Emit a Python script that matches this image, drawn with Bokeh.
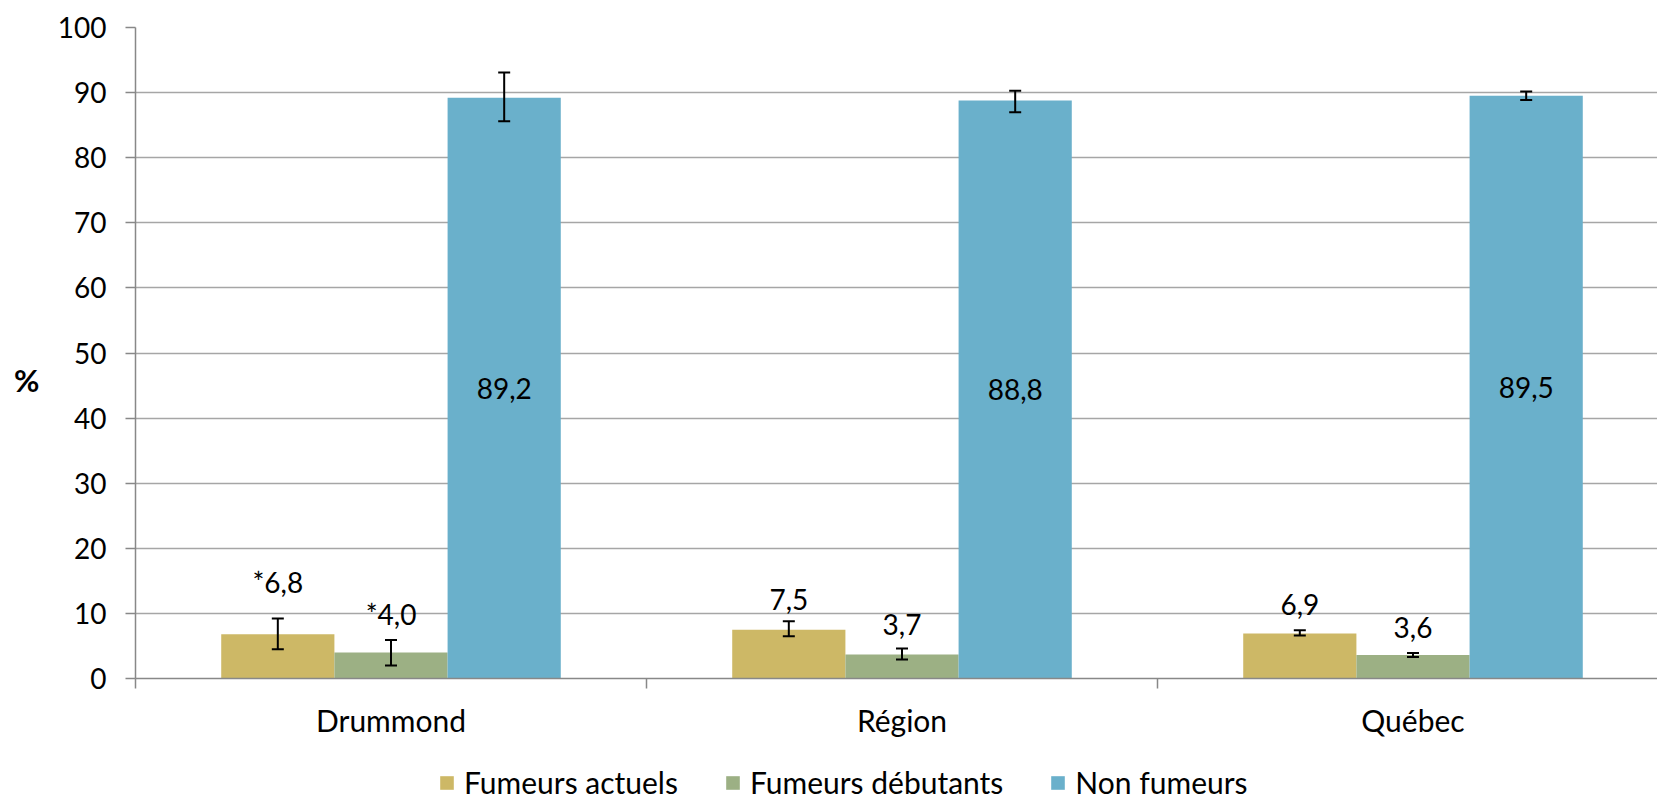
from bokeh.plotting import figure
from bokeh.layouts import column
from bokeh.models import (Range1d, FixedTicker, Whisker, TeeHead, ColumnDataSource,
                          Legend, LegendItem, LinearAxis)
from bokeh.core.properties import value
from bokeh.embed import file_html
from bokeh.resources import INLINE

# ---------------- data ----------------
categories = ["Drummond", "Région", "Québec"]
series_names = ["Fumeurs actuels", "Fumeurs débutants", "Non fumeurs"]

fumeurs_actuels = [6.8, 7.5, 6.9]
fumeurs_debutants = [4.0, 3.7, 3.6]
non_fumeurs = [89.2, 88.8, 89.5]

# confidence intervals (lower, upper)
actuels_low = [4.5, 6.5, 6.6]
actuels_high = [9.2, 8.8, 7.4]
debutants_low = [2.0, 2.9, 3.3]
debutants_high = [5.9, 4.6, 3.9]
non_low = [85.6, 87.0, 88.85]
non_high = [93.1, 90.3, 90.15]

# flags shown before the values (* = interpret with caution)
flags_actuels = ["*", "", ""]
flags_debutants = ["*", "", ""]
flags_non = ["", "", ""]

y_ticks = [0, 10, 20, 30, 40, 50, 60, 70, 80, 90, 100]
y_title = "%"

# ---------------- style ----------------
colors = ["#CDB866", "#9CB084", "#6AB0CB"]
label_offsets = [[-52, -30, -29], [-38, -30, -28], [0, 0, 0]]
FONT = "Lato"
FS = "28px"
FS_CAT = "30px"
bar_w = 0.2215
title_pos = 45.8  # vertical position of the "%" title, in axis units
GRID = "#A6A6A6"
AXIS = "#888888"
FRAME_LEFT = 135

values_all = [fumeurs_actuels, fumeurs_debutants, non_fumeurs]
lows_all = [actuels_low, debutants_low, non_low]
highs_all = [actuels_high, debutants_high, non_high]
flags_all = [flags_actuels, flags_debutants, flags_non]

W = 1657
H_MAIN = 750
H_LEG = 795 - H_MAIN

p = figure(width=W, height=H_MAIN, output_backend="svg", toolbar_location=None,
           x_range=Range1d(0, (W - FRAME_LEFT) / 511), y_range=Range1d(0, 100),
           min_border_left=FRAME_LEFT, min_border_right=0, min_border_top=27,
           min_border_bottom=H_MAIN - 678)
p.outline_line_color = None
p.background_fill_color = "white"
p.border_fill_color = "white"

for j, (vals, lo, hi, flags) in enumerate(zip(values_all, lows_all, highs_all, flags_all)):
    xs = [i + 0.5 + (j - 1) * bar_w for i in range(len(categories))]
    ys = vals if j < 2 else [v / 2 for v in vals]
    texts = [f + ("%.1f" % v).replace(".", ",") for f, v in zip(flags, vals)]
    src = ColumnDataSource(dict(x=xs, top=vals, lo=lo, hi=hi, ty=ys, text=texts,
                                off=label_offsets[j]))
    p.vbar(x="x", top="top", bottom=0, width=bar_w, source=src,
           fill_color=colors[j], line_color=None)
    w = Whisker(base="x", lower="lo", upper="hi", source=src, level="overlay",
                line_color="black", line_width=2,
                upper_head=TeeHead(size=12, line_width=2, line_color="black"),
                lower_head=TeeHead(size=12, line_width=2, line_color="black"))
    p.add_layout(w)
    p.text(x="x", y="ty", text="text", y_offset="off", source=src,
           text_align="center", text_baseline="middle",
           text_font=value(FONT), text_font_size=FS, text_color="black")

# y axis
p.yaxis.ticker = FixedTicker(ticks=y_ticks)
p.yaxis.minor_tick_line_color = None
p.yaxis.major_tick_in = 0
p.yaxis.major_tick_out = 10
p.yaxis.major_label_standoff = 19
p.yaxis.major_label_text_font = FONT
p.yaxis.major_label_text_font_size = FS
p.yaxis.major_label_text_color = "black"
p.yaxis.axis_line_color = AXIS
p.yaxis.axis_line_width = 1.5
p.yaxis.major_tick_line_color = AXIS
p.yaxis.major_tick_line_width = 1.5

# "%" title as an outer left axis with a single labelled tick
title_axis = LinearAxis(ticker=FixedTicker(ticks=[title_pos]),
                        major_label_overrides={title_pos: y_title},
                        axis_line_color=None, major_tick_line_color=None,
                        minor_tick_line_color=None, major_tick_out=0, major_tick_in=0,
                        major_label_standoff=15, major_label_text_font=FONT,
                        major_label_text_font_size="31px", major_label_text_font_style="bold",
                        major_label_text_color="black")
p.add_layout(title_axis, "left")

# x axis: labels at category centres, ticks at category boundaries
centers = [i + 0.5 for i in range(len(categories))]
bounds = [i for i in range(len(categories) + 1)]
p.xaxis.ticker = FixedTicker(ticks=centers, minor_ticks=bounds)
p.xaxis.major_label_overrides = {c: name for c, name in zip(centers, categories)}
p.xaxis.major_tick_in = 0
p.xaxis.major_tick_out = 0
p.xaxis.minor_tick_in = 0
p.xaxis.minor_tick_out = 10
p.xaxis.minor_tick_line_color = AXIS
p.xaxis.minor_tick_line_width = 1.5
p.xaxis.major_label_standoff = 13
p.xaxis.major_label_text_font = FONT
p.xaxis.major_label_text_font_size = FS_CAT
p.xaxis.major_label_text_color = "black"
p.xaxis.axis_line_color = AXIS
p.xaxis.axis_line_width = 1.5

p.xgrid.grid_line_color = None
p.ygrid.grid_line_color = GRID
p.ygrid.grid_line_width = 1.5

# ---------------- legend strip ----------------
lg = figure(width=W, height=H_LEG, output_backend="svg", toolbar_location=None,
            x_range=Range1d(0, 1), y_range=Range1d(0, 1),
            x_axis_type=None, y_axis_type=None,
            min_border_left=0, min_border_right=0, min_border_top=0, min_border_bottom=0)
lg.outline_line_color = None
lg.xgrid.grid_line_color = None
lg.ygrid.grid_line_color = None
items = []
for j, name in enumerate(series_names):
    # zero-height proxy bar: only used to draw the legend swatch
    r = lg.vbar(x=[0.5], top=[0], bottom=0, width=0.1, fill_color=colors[j], line_color=None)
    items.append(LegendItem(label=name, renderers=[r]))
legend = Legend(items=items, orientation="horizontal", location=(438 - FRAME_LEFT, -5),
                margin=0, padding=0, spacing=46, label_standoff=9,
                glyph_width=17, glyph_height=17,
                label_text_font=FONT, label_text_font_size=FS_CAT, label_text_color="black",
                border_line_color=None, background_fill_alpha=0)
lg.add_layout(legend)

layout = column(p, lg, spacing=0)
open("out.html", "w").write(file_html(layout, INLINE))
